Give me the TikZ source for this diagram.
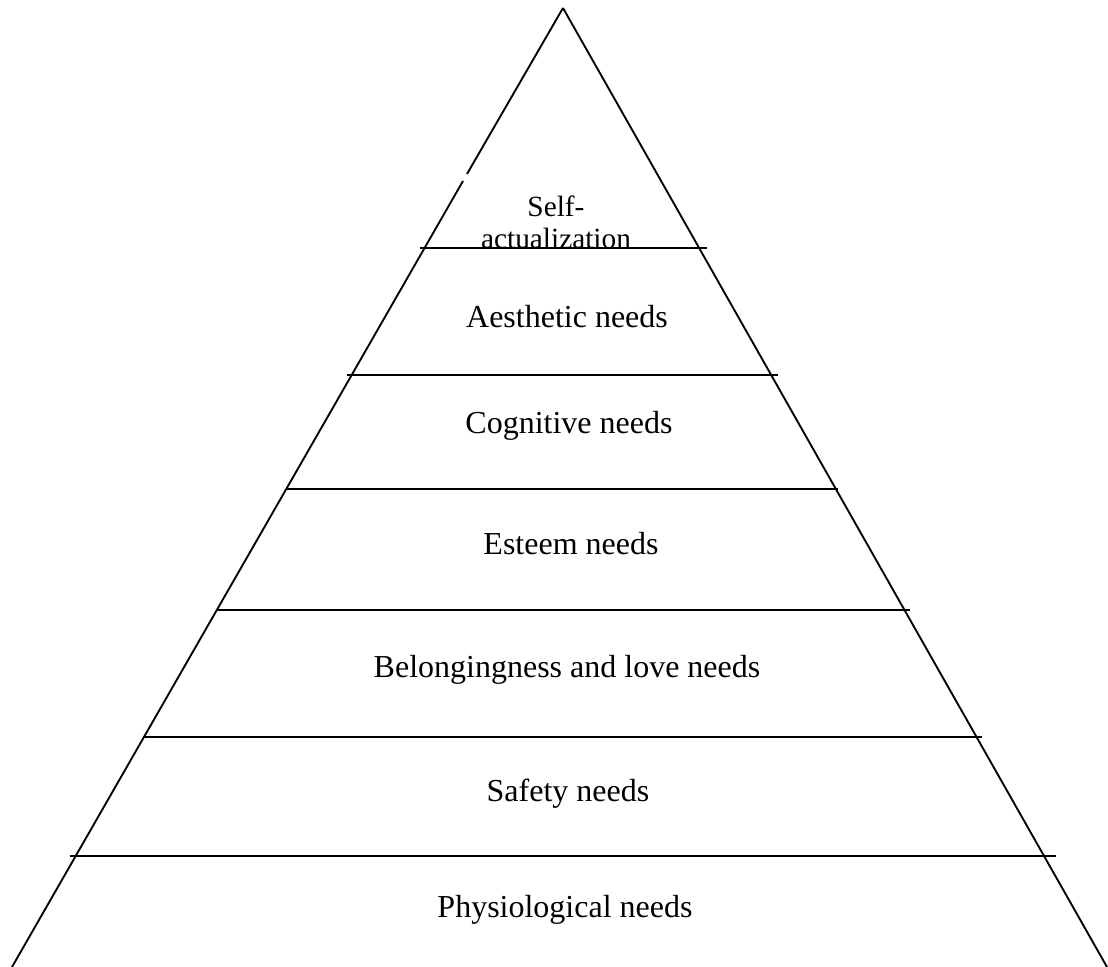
\documentclass[tikz,border=0pt]{standalone}
\usepackage{fontspec}
\setmainfont{Liberation Serif}

\begin{document}
\begin{tikzpicture}[x=0.75pt, y=-0.75pt, line width=1.4pt,
		font=\fontsize{24}{29}\selectfont,
		level/.style={anchor=base}]
		\useasboundingbox (0,0) rectangle (1108,967);
		% outline of the pyramid
		\coordinate (apex) at (563,8);
		\coordinate (baseL) at (12,967);
		\coordinate (baseR) at (1107,967);
		\coordinate (gapT) at (467,174);
		\coordinate (gapB) at (463,181);
		\draw (apex) -- (gapT);
		\draw (gapB) -- (baseL);
		\draw (apex) -- (baseR);
		% borders between the levels
		\draw (420,248) -- (707,248);
		\draw (347,375) -- (778,375);
		\draw (287,489) -- (838,489);
		\draw (216,610) -- (910,610);
		\draw (143,737) -- (982,737);
		\draw (70,856) -- (1056,856);
		% level labels
		\node[align=center, font=\fontsize{22}{24}\selectfont] (selfact) at (556,222) {Self-\\actualization};
		\node[level] (aesthetic) at (567,327) {Aesthetic needs};
		\node[level] (cognitive) at (569,433) {Cognitive needs};
		\node[level] (esteem) at (571,554) {Esteem needs};
		\node[level] (belonging) at (567,677) {Belongingness and love needs};
		\node[level] (safety) at (568,801) {Safety needs};
		\node[level] (physio) at (565,917) {Physiological needs};
	\end{tikzpicture}
\end{document}
